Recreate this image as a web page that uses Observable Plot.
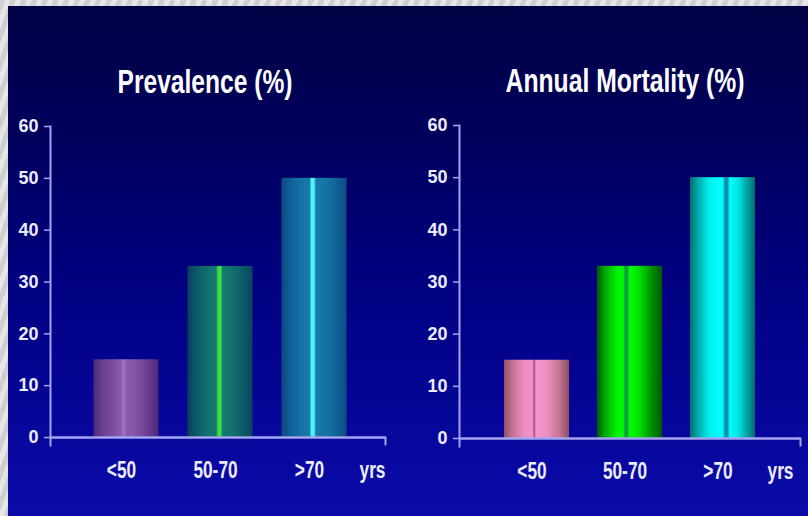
<!DOCTYPE html>
<html>
<head>
<meta charset="utf-8">
<script src="https://cdn.jsdelivr.net/npm/d3@7"></script>
<script src="https://cdn.jsdelivr.net/npm/@observablehq/plot@0.6"></script>
<style>
  html, body { margin: 0; padding: 0; }
  body {
    width: 808px; height: 516px; overflow: hidden; position: relative;
    background: repeating-linear-gradient(110deg, #cfcfcf 0 5px, #e6e6e6 5px 10px);
  }
  #slide {
    position: absolute; left: 8px; top: 6px; width: 800px; height: 510px;
    background: linear-gradient(to bottom, #000044 0%, #00005c 25%, #000082 55%, #0b0baa 100%);
  }
  .panel { position: absolute; top: 0; }
  .panel svg { overflow: visible; }
</style>
</head>
<body>
<div id="slide"></div>
<div id="left" class="panel" style="left:0px"></div>
<div id="right" class="panel" style="left:408px"></div>
<script>
// ---- data ----
const categories = ["<50", "50-70", ">70"];
const prevalence = [15, 33, 50];
const mortality = [15, 33, 50];
const yTicks = [0, 10, 20, 30, 40, 50, 60];
const titles = ["Prevalence (%)", "Annual Mortality (%)"];
const unitLabel = "yrs";

// ---- styles ----
const axisColor = "#a4a4f0";
const textColor = "#ececff";
const font = "'Liberation Sans', Arial, sans-serif";

const gradients = {
  // left panel: soft striped bars
  lp0: [[0, "#4e2a78"], [0.15, "#6c3f94"], [0.3, "#7c4ea2"], [0.42, "#8a5cb0"], [0.47, "#a07ac0"], [0.5, "#8a5cb0"], [0.6, "#8458aa"], [0.75, "#74479c"], [0.9, "#603688"], [1, "#4a2874"]],
  lp1: [[0, "#0a3e60"], [0.15, "#0e5a6a"], [0.3, "#12706e"], [0.44, "#147a70"], [0.47, "#38e040"], [0.51, "#38e040"], [0.54, "#147a70"], [0.7, "#12706c"], [0.85, "#0e5a68"], [1, "#0a4460"]],
  lp2: [[0, "#0c4a80"], [0.15, "#11609a"], [0.3, "#1672a4"], [0.43, "#187aaa"], [0.46, "#50f4ff"], [0.5, "#50f4ff"], [0.53, "#187aaa"], [0.7, "#1572a2"], [0.85, "#116096"], [1, "#0c4c84"]],
  // right panel: glossy cylinders with a divider line
  rp0: [[0, "#8e5066"], [0.12, "#c0708c"], [0.3, "#ee8cc4"], [0.44, "#f490c8"], [0.455, "#b060a0"], [0.475, "#b060a0"], [0.49, "#f494ca"], [0.65, "#f090c4"], [0.85, "#c47490"], [1, "#8c5064"]],
  rp1: [[0, "#005a00"], [0.12, "#00a800"], [0.3, "#00f000"], [0.4, "#00ff00"], [0.43, "#10a040"], [0.47, "#10a040"], [0.5, "#00ff00"], [0.65, "#00e000"], [0.85, "#008c00"], [1, "#005a00"]],
  rp2: [[0, "#007070"], [0.12, "#00a8a8"], [0.3, "#00f0f0"], [0.5, "#00ffff"], [0.54, "#1090a8"], [0.58, "#1090a8"], [0.61, "#00ffff"], [0.75, "#00e0e0"], [0.9, "#009898"], [1, "#006a6a"]]
};

function addDefs(svg, prefix) {
  const ns = "http://www.w3.org/2000/svg";
  const defs = document.createElementNS(ns, "defs");
  for (const [id, stops] of Object.entries(gradients)) {
    if (!id.startsWith(prefix)) continue;
    const g = document.createElementNS(ns, "linearGradient");
    g.setAttribute("id", id);
    g.setAttribute("x1", "0"); g.setAttribute("x2", "1");
    g.setAttribute("y1", "0"); g.setAttribute("y2", "0");
    for (const [o, c] of stops) {
      const s = document.createElementNS(ns, "stop");
      s.setAttribute("offset", o);
      s.setAttribute("stop-color", c);
      g.appendChild(s);
    }
    defs.appendChild(g);
  }
  svg.insertBefore(defs, svg.firstChild);
}

// narrow the lettering (horizontal scale about each text's centre) to match the condensed slide typeface
function condense(svg, titleText, titleWidth) {
  const ns = "http://www.w3.org/2000/svg";
  svg.querySelectorAll("text").forEach(t => {
    const s = t.textContent;
    if (/^\d+$/.test(s)) return;
    const b = t.getBBox();
    const k = s === titleText ? titleWidth / b.width : 0.72;
    let cx = b.x + b.width / 2;
    const cy = b.y + b.height / 2;
    const m = t.transform && t.transform.baseVal.numberOfItems ? t.transform.baseVal.consolidate().matrix : null;
    if (m) cx = m.a * cx + m.c * cy + m.e;
    const g = document.createElementNS(ns, "g");
    g.setAttribute("transform", `translate(${cx},0) scale(${k},1) translate(${-cx},0)`);
    t.parentNode.insertBefore(g, t);
    g.appendChild(t);
  });
}

function panel(cfg) {
  const data = categories.map((c, i) => ({cat: c, value: cfg.values[i], i}));
  const fh = 516 - cfg.mt - cfg.mb;
  const svg = Plot.plot({
    width: cfg.width,
    height: 516,
    marginLeft: cfg.ml,
    marginRight: cfg.mr,
    marginTop: cfg.mt,
    marginBottom: cfg.mb,
    style: {background: "transparent", color: textColor, fontFamily: font, fontWeight: "bold", fontSize: "16px", overflow: "visible"},
    x: {domain: categories, range: cfg.xrange, padding: 0, label: null},
    y: {domain: [0, 60], label: null},
    color: {type: "identity"},
    marks: [
      Plot.barY(data, {x: "cat", y: "value", fill: d => `url(#${cfg.prefix}${d.i})`, insetLeft: cfg.inset, insetRight: cfg.inset}),
      Plot.axisY({ticks: yTicks, tickSize: 6, tickPadding: 6, stroke: axisColor, strokeWidth: 1.5, fill: textColor, fontSize: 18, fontWeight: "bold"}),
      Plot.axisX({tickSize: 0, tickPadding: 33, dx: -5, lineAnchor: "middle", fill: textColor, fontSize: 24, fontWeight: "bold"}),
      Plot.frame({anchor: "left", stroke: axisColor, strokeWidth: 2, insetBottom: -8}),
      Plot.frame({anchor: "right", stroke: axisColor, strokeWidth: 2, insetTop: fh, insetBottom: -7}),
      Plot.ruleY([0], {stroke: axisColor, strokeWidth: 2.5}),
      Plot.text([unitLabel], {frameAnchor: "bottom-right", textAnchor: "middle", dx: cfg.unitDx, dy: 33, lineAnchor: "middle", fill: textColor, fontSize: 24, fontWeight: "bold"}),
      Plot.text([cfg.title], {frameAnchor: "top", dx: cfg.titleDx, dy: -44, lineAnchor: "middle", fill: "#ffffff", fontSize: 33, fontWeight: "bold"})
    ]
  });
  addDefs(svg, cfg.prefix);
  return svg;
}

const leftSvg = panel({
  values: prevalence, title: titles[0], prefix: "lp",
  width: 408, ml: 50, mr: 23, mt: 126, mb: 79,
  xrange: [78.5, 360.5], inset: 14.5, unitDx: -13, titleDx: -13
});
const rightSvg = panel({
  values: mortality, title: titles[1], prefix: "rp",
  width: 400, ml: 51, mr: 8, mt: 125, mb: 78,
  xrange: [80.75, 361.25], inset: 14, unitDx: -20, titleDx: -5
});
document.getElementById("left").appendChild(leftSvg);
document.getElementById("right").appendChild(rightSvg);
condense(leftSvg, titles[0], 175);
condense(rightSvg, titles[1], 239);
</script>
</body>
</html>
